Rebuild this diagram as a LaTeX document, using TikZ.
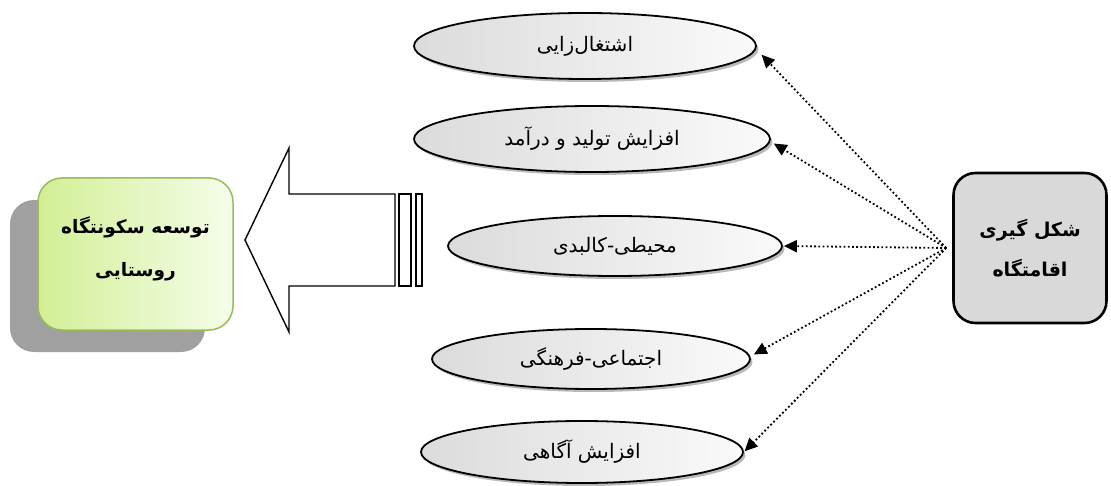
\documentclass[tikz,border=0pt]{standalone}
\usepackage{fontspec}
\usetikzlibrary{shapes.geometric,arrows.meta,shadows}
\newfontfamily\fa[Script=Arabic]{DejaVu Sans}
\TeXXeTstate=1
\definecolor{gbord}{HTML}{9BBB59}
\definecolor{gleft}{HTML}{D2EF95}
\definecolor{gright}{HTML}{F5FDEA}
\definecolor{shadowgray}{HTML}{A0A0A0}
\definecolor{boxgray}{HTML}{D9D9D9}
\tikzset{
  oval/.style={ellipse, draw=black, line width=1.8pt, inner sep=0pt,
    left color=gray!28, right color=gray!4,
    drop shadow={shadow xshift=2.5pt, shadow yshift=-3pt, fill=gray!55, opacity=1},
    font=\fa\fontsize{20}{23}\selectfont},
  greenbox/.style={rectangle, rounded corners=24pt, draw=gbord, line width=1.5pt,
    left color=gleft, right color=gright, minimum width=195pt, minimum height=152pt,
    drop shadow={shadow xshift=-28pt, shadow yshift=-22pt, fill=shadowgray, opacity=1}},
  boxtext/.style={align=center, inner sep=0pt, font=\fa\bfseries\fontsize{18.5}{43}\selectfont},
  graybox/.style={rectangle, rounded corners=22pt, draw=black, line width=2.6pt,
    fill=boxgray, minimum width=153pt, minimum height=150pt,
    align=center, font=\fa\bfseries\fontsize{19}{40}\selectfont},
  conn/.style={line width=1.8pt, dash pattern=on 1.8pt off 2.4pt,
    -{Triangle[length=13pt,width=12pt]}, shorten >=1pt},
  blockarrow/.style={line width=1.4pt, fill=white, line join=miter}
}
\begin{document}
\begin{tikzpicture}[x=1pt,y=-1pt]
\useasboundingbox (0,0) rectangle (1111,486);

% left box with shadow
\node[greenbox] (dev) at (135.5,254) {};
\node[boxtext] (devtext) at ([yshift=5pt]dev.center) {\beginR توسعه سکونتگاه\endR\\\beginR روستایی\endR};

% block arrow
\draw[blockarrow] (245,240) -- (289,148) -- (289,194) -- (395,194) -- (395,286)
  -- (289,286) -- (289,332) -- cycle;
\draw[line width=1.4pt] (399,194) rectangle (411,286);
\draw[line width=1.4pt] (416,194) rectangle (422,286);

% ellipses
\node[oval, minimum width=342pt, minimum height=66pt] (e1) at (585,46) {\beginR اشتغال‌زایی\endR};
\node[oval, minimum width=356pt, minimum height=66pt] (e2) at (592,139) {\beginR افزایش تولید و درآمد\endR};
\node[oval, minimum width=334pt, minimum height=60pt] (e3) at (615,246) {\beginR محیطی-کالبدی\endR};
\node[oval, minimum width=318pt, minimum height=60pt] (e4) at (591,359) {\beginR اجتماعی-فرهنگی\endR};
\node[oval, minimum width=322pt, minimum height=62pt] (e5) at (582,452) {\beginR افزایش آگاهی\endR};

% right box
\node[graybox] (src) at (1030,248) {\beginR شکل گیری\endR\\\beginR اقامتگاه\endR};
\coordinate (hub) at ([xshift=-6pt]src.west);

% connectors
\draw[conn] (hub) -- ([shift={(4pt,-8pt)}]e1.east);
\draw[conn] (hub) -- ([shift={(2pt,-4pt)}]e2.east);
\draw[conn] (hub) -- (e3.east);
\draw[conn] (hub) -- ([shift={(2pt,4pt)}]e4.east);
\draw[conn] (hub) -- (e5.east);
\end{tikzpicture}
\end{document}
